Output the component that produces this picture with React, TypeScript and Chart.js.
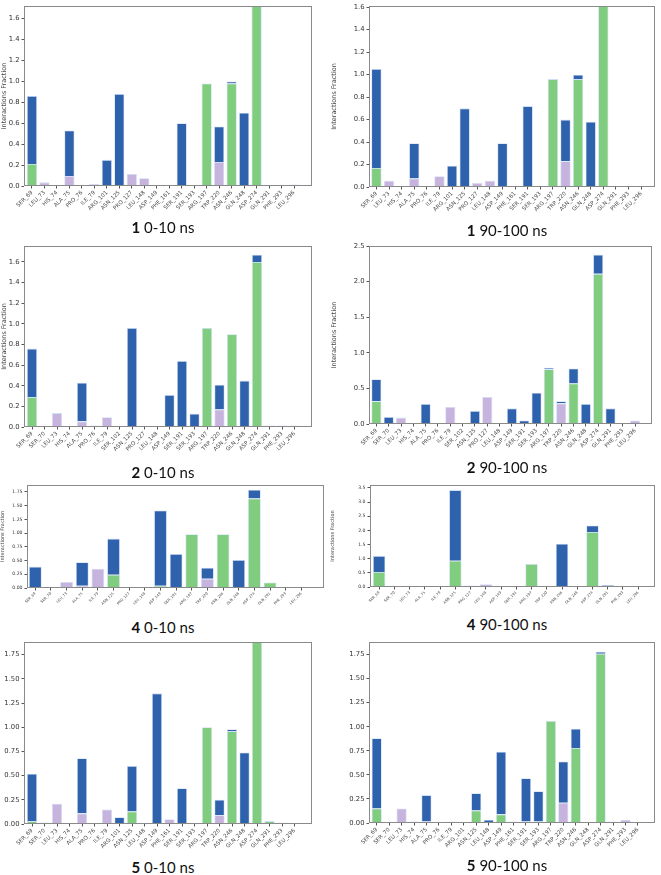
import React, { useEffect, useRef } from "react";
import { Chart, registerables } from "chart.js";

Chart.register(...registerables);

// ---------- categories ----------
const CAT_1 = ["SER_69","LEU_73","HIS_74","ALA_75","PRO_76","ILE_79","ARG_101","ASN_125","PRO_127","LEU_148","ASP_149","PHE_161","SER_191","SER_193","ARG_197","TRP_220","ASN_246","GLN_248","ASP_274","GLN_291","PHE_293","LEU_296"];
const CAT_2 = ["SER_69","SER_70","LEU_73","HIS_74","ALA_75","PRO_76","ILE_79","SER_102","ASN_125","PRO_127","LEU_148","ASP_149","SER_191","SER_193","ARG_197","TRP_220","ASN_246","GLN_248","ASP_274","GLN_291","PHE_293","LEU_296"];
const CAT_4 = ["SER_69","SER_70","LEU_73","ALA_75","ILE_79","ASN_125","PRO_127","LEU_148","ASP_149","SER_191","ARG_197","TRP_220","ASN_246","GLN_248","ASP_274","GLN_291","PHE_293","LEU_296"];
const CAT_5 = ["SER_69","SER_70","LEU_73","HIS_74","ALA_75","PRO_76","ILE_79","ARG_101","ASN_125","LEU_148","ASP_149","PHE_161","SER_191","SER_193","ARG_197","TRP_220","ASN_246","GLN_248","ASP_274","GLN_291","PHE_293","LEU_296"];

// ---------- series (HB = H-bonds green, HP = hydrophobic purple, WB = water bridges blue) ----------
const HB_1_0 = [0.21,0,0,0,0,0,0,0,0,0,0,0,0,0,0.98,0,0.98,0,1.76,0,0,0];
const HP_1_0 = [0,0.035,0,0.095,0,0.018,0,0,0.115,0.075,0,0,0,0,0,0.23,0,0,0,0,0,0.015];
const WB_1_0 = [0.65,0,0,0.435,0,0,0.25,0.88,0,0,0,0,0.60,0,0,0.34,0.02,0.70,0,0,0,0];

const HB_1_90 = [0.17,0,0,0,0,0,0,0,0,0,0,0,0,0,0.96,0,0.96,0,1.70,0,0,0];
const HP_1_90 = [0,0.055,0,0.075,0,0.095,0,0,0.035,0.055,0,0,0,0,0,0.23,0,0,0,0,0,0];
const WB_1_90 = [0.88,0,0,0.315,0,0,0.19,0.70,0,0,0.39,0,0.72,0,0,0.37,0.04,0.58,0,0,0,0];

const HB_2_0 = [0.29,0,0,0,0,0,0,0,0,0,0,0,0,0,0.96,0,0.90,0,1.60,0.015,0,0];
const HP_2_0 = [0,0,0.135,0,0.055,0.015,0.095,0,0,0,0,0,0,0,0,0.17,0,0,0,0,0.015,0.015];
const WB_2_0 = [0.47,0,0,0,0.375,0,0,0,0.96,0,0,0.31,0.64,0.13,0,0.24,0,0.45,0.07,0,0,0];

const HB_2_90 = [0.32,0,0,0,0,0,0,0,0,0,0,0,0,0.01,0.77,0,0.57,0,2.11,0,0,0];
const HP_2_90 = [0,0,0.09,0,0.01,0,0.24,0,0,0.38,0,0,0,0,0,0.29,0,0,0,0,0,0.05];
const WB_2_90 = [0.31,0.10,0,0.015,0.27,0,0,0.015,0.185,0,0,0.22,0.05,0.43,0.02,0.03,0.21,0.28,0.27,0.22,0,0];

const HB_4_0 = [0,0,0,0,0,0.24,0,0,0.04,0,0.98,0,0.98,0,1.63,0.10,0,0];
const HP_4_0 = [0,0,0.11,0.04,0.35,0,0,0,0,0,0,0.17,0,0,0,0,0,0];
const WB_4_0 = [0.39,0,0,0.43,0,0.66,0,0,1.37,0.62,0,0.20,0,0.51,0.16,0,0,0];

const HB_4_90 = [0.53,0,0,0,0,0.93,0,0,0,0,0.81,0,0,0,1.94,0,0,0];
const HP_4_90 = [0,0,0,0.01,0.01,0,0.05,0.10,0,0,0,0,0,0,0,0,0,0.005];
const WB_4_90 = [0.57,0,0,0,0,2.49,0,0,0,0,0,0,1.53,0,0.23,0.07,0,0];

const HB_5_0 = [0.03,0,0,0,0,0,0,0,0.13,0,0,0,0,0,1.0,0,0.96,0,1.95,0.03,0,0];
const HP_5_0 = [0,0,0.21,0,0.11,0,0.15,0,0,0,0,0.05,0,0,0,0.09,0,0,0,0,0.015,0];
const WB_5_0 = [0.49,0.015,0,0,0.57,0,0,0.07,0.47,0,1.35,0,0.37,0,0,0.16,0.02,0.74,0,0,0,0];

const HB_5_90 = [0.15,0,0,0,0,0,0,0,0.13,0,0.09,0,0.015,0.015,1.06,0,0.78,0,1.76,0.015,0,0];
const HP_5_90 = [0,0,0.15,0,0.015,0,0.015,0,0,0,0,0.015,0,0,0,0.21,0,0,0,0,0.035,0];
const WB_5_90 = [0.73,0,0,0.015,0.275,0,0,0,0.18,0.035,0.65,0,0.45,0.315,0,0.43,0.20,0,0.02,0,0,0];

// ---------- y tick values ----------
const YT_16 = [0,0.2,0.4,0.6,0.8,1.0,1.2,1.4,1.6];
const YT_25 = [0,0.5,1.0,1.5,2.0,2.5];
const YT_175 = [0,0.25,0.5,0.75,1.0,1.25,1.5,1.75];
const YT_35 = [0,0.5,1.0,1.5,2.0,2.5,3.0,3.5];

const GREEN = "#80cd80";
const PURPLE = "#c6b4de";
const BLUE = "#2f62ad";
const EDGE = "rgba(205,220,245,0.95)";
const FONT = "'DejaVu Sans', sans-serif";

const framePlugin = {
  id: "frame",
  afterDraw(chart: any) {
    const { ctx, chartArea } = chart;
    const l = Math.round(chartArea.left) + 0.5;
    const t = Math.round(chartArea.top) + 0.5;
    const r = Math.round(chartArea.right) - 0.5;
    const b = Math.round(chartArea.bottom) - 0.5;
    ctx.save();
    ctx.strokeStyle = "#8a8a8a";
    ctx.lineWidth = 1;
    ctx.strokeRect(l, t, r - l, b - t);
    ctx.restore();
  },
};

type PanelProps = {
  left: number; top: number; width: number; height: number;
  aL: number; aT: number; aR: number; aB: number;
  labels: string[]; hb: number[]; hp: number[]; wb: number[];
  ymax: number; yticks: number[]; dec: number; xmin: number; xmax: number;
  tickFont: number; labelFont: number; yTitle: number | null;
};

function Panel(p: PanelProps) {
  const ref = useRef<HTMLCanvasElement>(null);
  useEffect(() => {
    const mk = (vals: number[], color: string, label: string) => ({
      label,
      data: vals.map((v, i) => ({ x: i, y: v > 0 ? v : null })),
      backgroundColor: color,
      borderColor: EDGE,
      borderWidth: 0.8,
      barPercentage: 0.82,
      categoryPercentage: 1,
      stack: "s",
    });
    const chart = new Chart(ref.current as HTMLCanvasElement, {
      type: "bar",
      data: {
        datasets: [
          mk(p.hb, GREEN, "H-bonds"),
          mk(p.hp, PURPLE, "Hydrophobic"),
          mk(p.wb, BLUE, "Water bridges"),
        ] as any,
      },
      options: {
        animation: false,
        responsive: false,
        maintainAspectRatio: false,
        devicePixelRatio: 1,
        layout: { padding: { top: p.aT, right: p.width - p.aR, left: 0, bottom: 0 } },
        plugins: { legend: { display: false }, tooltip: { enabled: false } },
        scales: {
          x: {
            type: "linear",
            stacked: true,
            min: p.xmin,
            max: p.xmax,
            offset: false,
            afterBuildTicks: (s: any) => { s.ticks = p.labels.map((_, i) => ({ value: i })); },
            afterFit: (s: any) => { s.height = p.height - p.aB; },
            ticks: {
              autoSkip: false,
              minRotation: 45,
              maxRotation: 45,
              padding: 1,
              color: "#444",
              font: { family: FONT, size: p.labelFont },
              callback: (v: any) => p.labels[v] ?? "",
            },
            grid: { display: true, drawOnChartArea: false, drawTicks: true, tickLength: 2.5, color: "#555", offset: false },
            border: { display: false },
          },
          y: {
            type: "linear",
            stacked: true,
            min: 0,
            max: p.ymax,
            afterBuildTicks: (s: any) => { s.ticks = p.yticks.map((v) => ({ value: v })); },
            afterFit: (s: any) => { s.width = p.aL; },
            ticks: {
              padding: 2,
              color: "#333",
              font: { family: FONT, size: p.tickFont },
              callback: (v: any) => Number(v).toFixed(p.dec),
            },
            grid: { display: true, drawOnChartArea: false, drawTicks: true, tickLength: 2.5, color: "#555" },
            border: { display: false },
            title: {
              display: p.yTitle != null,
              text: "Interactions Fraction",
              color: "#444",
              padding: 0,
              font: { family: FONT, size: p.yTitle || 6 },
            },
          },
        },
      } as any,
      plugins: [framePlugin],
    });
    return () => chart.destroy();
  }, []);
  return (
    <canvas
      ref={ref}
      width={p.width}
      height={p.height}
      style={{ position: "absolute", left: p.left, top: p.top, width: p.width, height: p.height }}
    />
  );
}

function Caption({ x, y, num, rest }: { x: number; y: number; num: string; rest: string }) {
  return (
    <div
      style={{
        position: "absolute",
        left: x,
        top: y,
        transform: "translate(-50%, -50%)",
        fontFamily: "Lato, 'Open Sans', sans-serif",
        fontSize: 15,
        color: "#111",
        whiteSpace: "nowrap",
        lineHeight: 1,
      }}
    >
      <b>{num}</b> {rest}
    </div>
  );
}

export default function App() {
  const big = { tickFont: 6.8, labelFont: 5.5 };
  const small = { tickFont: 4.6, labelFont: 3.6 };
  return (
    <div style={{ position: "absolute", left: 0, top: 0, width: 661, height: 875, background: "#fff", overflow: "hidden" }}>
      <Panel left={0} top={0} width={330} height={220} aL={24} aT={4} aR={312} aB={186}
        labels={CAT_1} hb={HB_1_0} hp={HP_1_0} wb={WB_1_0} ymax={1.72} yticks={YT_16} dec={1}
        xmin={-0.64} xmax={22.44} {...big} yTitle={6.5} />
      <Panel left={330} top={0} width={331} height={220} aL={39} aT={4} aR={325} aB={187}
        labels={CAT_1} hb={HB_1_90} hp={HP_1_90} wb={WB_1_90} ymax={1.61} yticks={YT_16} dec={1}
        xmin={-0.59} xmax={22.1} {...big} yTitle={6.5} />
      <Panel left={0} top={240} width={330} height={215} aL={24} aT={5} aR={312} aB={187}
        labels={CAT_2} hb={HB_2_0} hp={HP_2_0} wb={WB_2_0} ymax={1.754} yticks={YT_16} dec={1}
        xmin={-0.64} xmax={22.4} {...big} yTitle={6.5} />
      <Panel left={330} top={240} width={331} height={215} aL={39} aT={6} aR={322} aB={184}
        labels={CAT_2} hb={HB_2_90} hp={HP_2_90} wb={WB_2_90} ymax={2.5} yticks={YT_25} dec={1}
        xmin={-0.6} xmax={22.37} {...big} yTitle={6.5} />
      <Panel left={0} top={480} width={330} height={130} aL={27} aT={4} aR={324} aB={108}
        labels={CAT_4} hb={HB_4_0} hp={HP_4_0} wb={WB_4_0} ymax={1.88} yticks={YT_175} dec={2}
        xmin={-0.53} xmax={18.45} {...small} yTitle={5} />
      <Panel left={330} top={480} width={331} height={130} aL={40} aT={5} aR={325} aB={107}
        labels={CAT_4} hb={HB_4_90} hp={HP_4_90} wb={WB_4_90} ymax={3.6} yticks={YT_35} dec={1}
        xmin={-0.6} xmax={18.1} {...small} yTitle={5} />
      <Panel left={0} top={636} width={330} height={220} aL={24} aT={4} aR={312} aB={188}
        labels={CAT_5} hb={HB_5_0} hp={HP_5_0} wb={WB_5_0} ymax={1.88} yticks={YT_175} dec={2}
        xmin={-0.64} xmax={22.4} {...big} yTitle={null} />
      <Panel left={330} top={636} width={331} height={220} aL={39} aT={4} aR={325} aB={187}
        labels={CAT_5} hb={HB_5_90} hp={HP_5_90} wb={WB_5_90} ymax={1.88} yticks={YT_175} dec={2}
        xmin={-0.62} xmax={22.37} {...big} yTitle={null} />

      <Caption x={163} y={227} num="1" rest="0-10 ns" />
      <Caption x={507} y={230} num="1" rest="90-100 ns" />
      <Caption x={163} y={472} num="2" rest="0-10 ns" />
      <Caption x={507} y={467} num="2" rest="90-100 ns" />
      <Caption x={163} y={627} num="4" rest="0-10 ns" />
      <Caption x={507} y={624} num="4" rest="90-100 ns" />
      <Caption x={163} y={867} num="5" rest="0-10 ns" />
      <Caption x={507} y={865} num="5" rest="90-100 ns" />
    </div>
  );
}
